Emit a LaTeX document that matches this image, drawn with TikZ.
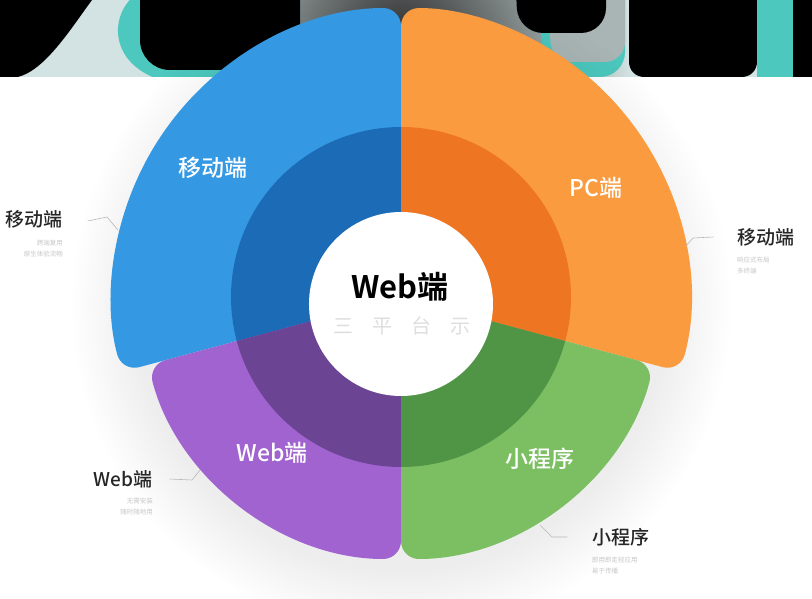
\documentclass[tikz,border=0pt]{standalone}
\usepackage{fontspec}
\setmainfont{Noto Sans CJK SC}[BoldFont={Noto Sans CJK SC Bold}]
\newfontfamily\medcjk{Noto Sans CJK SC Medium}
\usepackage{xcolor}
\usetikzlibrary{calc,positioning,fadings}

\definecolor{mobblue}{HTML}{3498E2}
\definecolor{mobbluedk}{HTML}{1B6BB6}
\definecolor{pcorange}{HTML}{F99B3E}
\definecolor{pcorangedk}{HTML}{EE7521}
\definecolor{appgreen}{HTML}{7BBF62}
\definecolor{appgreendk}{HTML}{509446}
\definecolor{webpurple}{HTML}{A063D0}
\definecolor{webpurpledk}{HTML}{6C4494}
\definecolor{bandbg}{HTML}{D3E2E2}
\definecolor{bandteal}{HTML}{4CC8BE}

\tikzset{
  seglabel/.style={text=white,font=\medcjk\fontsize{23}{23}\selectfont,inner sep=0pt},
  sidelabel/.style={text=black!85,font=\medcjk\fontsize{19}{19}\selectfont,inner sep=0pt},
  sidenote/.style={text=black!22,font=\fontsize{6.5}{11}\selectfont,inner sep=0pt},
  leader/.style={draw=black!28,line width=0.6pt},
  outerseg/.style={rounded corners=18pt},
}

\begin{document}
\begin{tikzpicture}[x=1pt,y=-1pt]
  \useasboundingbox (0,0) rectangle (812,599);
  \fill[white] (0,0) rectangle (812,599);

  % banner at the top, cut off
  \begin{scope}
    \clip (0,0) rectangle (812,77);
    \fill[bandbg] (0,0) rectangle (812,77);
    % dark glow behind the chart
    \shade[inner color=black!80,outer color=bandbg] (401,40) circle[radius=230];
    \fill[black] (0,0) -- (92,0) .. controls (70,30) and (45,70) .. (18,77) -- (0,77) -- cycle;
    \fill[bandteal] (135,-5) .. controls (110,15) and (108,62) .. (160,80) -- (300,80) -- (300,-5) -- cycle;
    \fill[black,rounded corners=30pt] (140,-30) -- (140,70) -- (300,70) -- (300,-30) -- cycle;
    \fill[bandteal,rounded corners=25pt] (535,-30) -- (545,77) -- (625,77) -- (625,-30) -- cycle;
    \fill[bandbg!80!black,rounded corners=20pt] (545,-30) -- (552,62) -- (625,62) -- (625,-30) -- cycle;
    \fill[black,rounded corners=25pt] (515,-30) -- (518,33) -- (606,33) -- (606,-30) -- cycle;
    \fill[black,rounded corners=15pt] (629,-30) -- (629,77) -- (757,77) -- (757,-30) -- cycle;
    \fill[bandteal] (757,0) rectangle (793,77);
    \fill[black] (793,0) rectangle (812,77);
  \end{scope}

  % soft shadow round the chart
  \fill[black,opacity=0.07,path fading=circle with fuzzy edge 20 percent] (401,305) circle[radius=330];

  \begin{scope}[shift={(401,297)},yscale=-1]
    % outer segments
    \fill[mobblue,outerseg] (0,0) -- (90:289) arc[start angle=90,end angle=195,radius=289] -- cycle;
    \fill[pcorange,outerseg] (0,0) -- (-15:289) arc[start angle=-15,end angle=90,radius=289] -- cycle;
    \fill[webpurple,outerseg] (0,0) -- (195:262) arc[start angle=195,end angle=270,radius=262] -- cycle;
    \fill[appgreen,outerseg] (0,0) -- (270:262) arc[start angle=270,end angle=345,radius=262] -- cycle;
    % inner ring
    \fill[mobbluedk] (0,0) -- (90:170) arc[start angle=90,end angle=195,radius=170] -- cycle;
    \fill[pcorangedk] (0,0) -- (-15:170) arc[start angle=-15,end angle=90,radius=170] -- cycle;
    \fill[webpurpledk] (0,0) -- (195:170) arc[start angle=195,end angle=270,radius=170] -- cycle;
    \fill[appgreendk] (0,0) -- (270:170) arc[start angle=270,end angle=345,radius=170] -- cycle;
    % hub
    \fill[white] (0,-7) circle[radius=92];
  \end{scope}

  \node[font=\bfseries\fontsize{31}{31}\selectfont,inner sep=0pt] (hub) at (400,287) {Web端};
  \node[text=black!13,font=\fontsize{20}{20}\selectfont,inner sep=0pt] (hubsub) at (402,326)
    {三\hspace{19pt}平\hspace{19pt}台\hspace{19pt}示};

  \node[seglabel] (segmob) at (213,168) {移动端};
  \node[seglabel] (segpc) at (596,188) {PC端};
  \node[seglabel] (segweb) at (272,453) {Web端};
  \node[seglabel] (segapp) at (540,459) {小程序};

  % side labels
  \node[sidelabel] (mobL) at (34,219) {移动端};
  \node[sidenote,anchor=north east,align=right] (mobLnote) at (63,240) {跨端复用\\原生体验流畅};
  \node[sidelabel] (mobR) at (766,237) {移动端};
  \node[sidenote,anchor=north west,align=left] (mobRnote) at (737,257) {响应式布局\\多终端};
  \node[sidelabel] (webL) at (123,479) {Web端};
  \node[sidenote,anchor=north east,align=right] (webLnote) at (153,498) {无需安装\\随时随地用};
  \node[sidelabel] (appR) at (621,537) {小程序};
  \node[sidenote,anchor=north west,align=left] (appRnote) at (592,557) {即用即走轻应用\\易于传播};

  \coordinate (mobLa) at (107,217);
  \coordinate (mobLb) at (118,230);
  \coordinate (mobRa) at (693,238);
  \coordinate (mobRb) at (685,247);
  \coordinate (webLa) at (192,480);
  \coordinate (webLb) at (200,470);
  \coordinate (appRa) at (552,537);
  \coordinate (appRb) at (540,525);

  \draw[leader] ([xshift=25pt,yshift=-2pt]mobL.east) -- (mobLa) -- (mobLb);
  \draw[leader] ([xshift=-24pt]mobR.west) -- (mobRa) -- (mobRb);
  \draw[leader] ([xshift=17pt]webL.east) -- (webLa) -- (webLb);
  \draw[leader] ([xshift=-25pt]appR.west) -- (appRa) -- (appRb);
\end{tikzpicture}
\end{document}
